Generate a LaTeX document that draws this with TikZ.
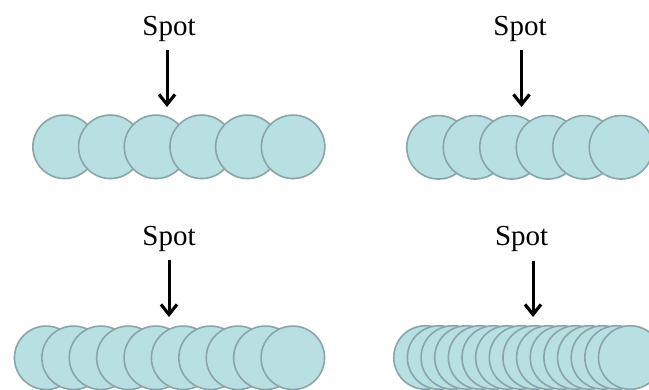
\documentclass[tikz,border=0pt]{standalone}
\usepackage{fontspec}
\setmainfont{Liberation Serif}
\usetikzlibrary{arrows.meta}
\definecolor{ballfill}{HTML}{B8DFE2}
\definecolor{balledge}{HTML}{8AA5A7}
\tikzset{
  ball/.style={circle, draw=balledge, fill=ballfill, line width=1.6pt, minimum size=63.5pt, inner sep=0pt},
  spotlabel/.style={anchor=base, inner sep=0pt, font=\fontsize{29}{29}\selectfont},
  spotarrow/.style={line width=3pt, -{Straight Barb[length=10pt,width=16pt,line width=3.2pt]}}
}
\begin{document}
\begin{tikzpicture}[x=1pt,y=-1pt]
\useasboundingbox (0,0) rectangle (649,390);
\clip (0,0) rectangle (649,390);
\fill[white] (0,0) rectangle (649,390);
% top-left
\foreach \i in {0,...,5} \node[ball] (a\i) at ({64.6+45.7*\i},146.8) {};
\node[spotlabel] (sa) at (169,35.5) {Spot};
\coordinate (sa1) at (167,50);
\coordinate (sa2) at (167,107);
\draw[spotarrow] (sa1) -- (sa2);
% top-right
\foreach \i in {0,...,5} \node[ball] (b\i) at ({438.5+36.5*\i},147.3) {};
\node[spotlabel] (sb) at (520,35.5) {Spot};
\coordinate (sb1) at (521.5,50);
\coordinate (sb2) at (521.5,107);
\draw[spotarrow] (sb1) -- (sb2);
% bottom-left
\foreach \i in {0,...,9} \node[ball] (c\i) at ({46.2+27.4*\i},357.8) {};
\node[spotlabel] (sc) at (169,245.5) {Spot};
\coordinate (sc1) at (169,260);
\coordinate (sc2) at (169,317);
\draw[spotarrow] (sc1) -- (sc2);
% bottom-right
\foreach \i in {0,...,15} \node[ball] (d\i) at ({425.5+13.65*\i},357.5) {};
\node[spotlabel] (sd) at (521.7,245.5) {Spot};
\coordinate (sd1) at (533,261);
\coordinate (sd2) at (533,317);
\draw[spotarrow] (sd1) -- (sd2);
\end{tikzpicture}
\end{document}
